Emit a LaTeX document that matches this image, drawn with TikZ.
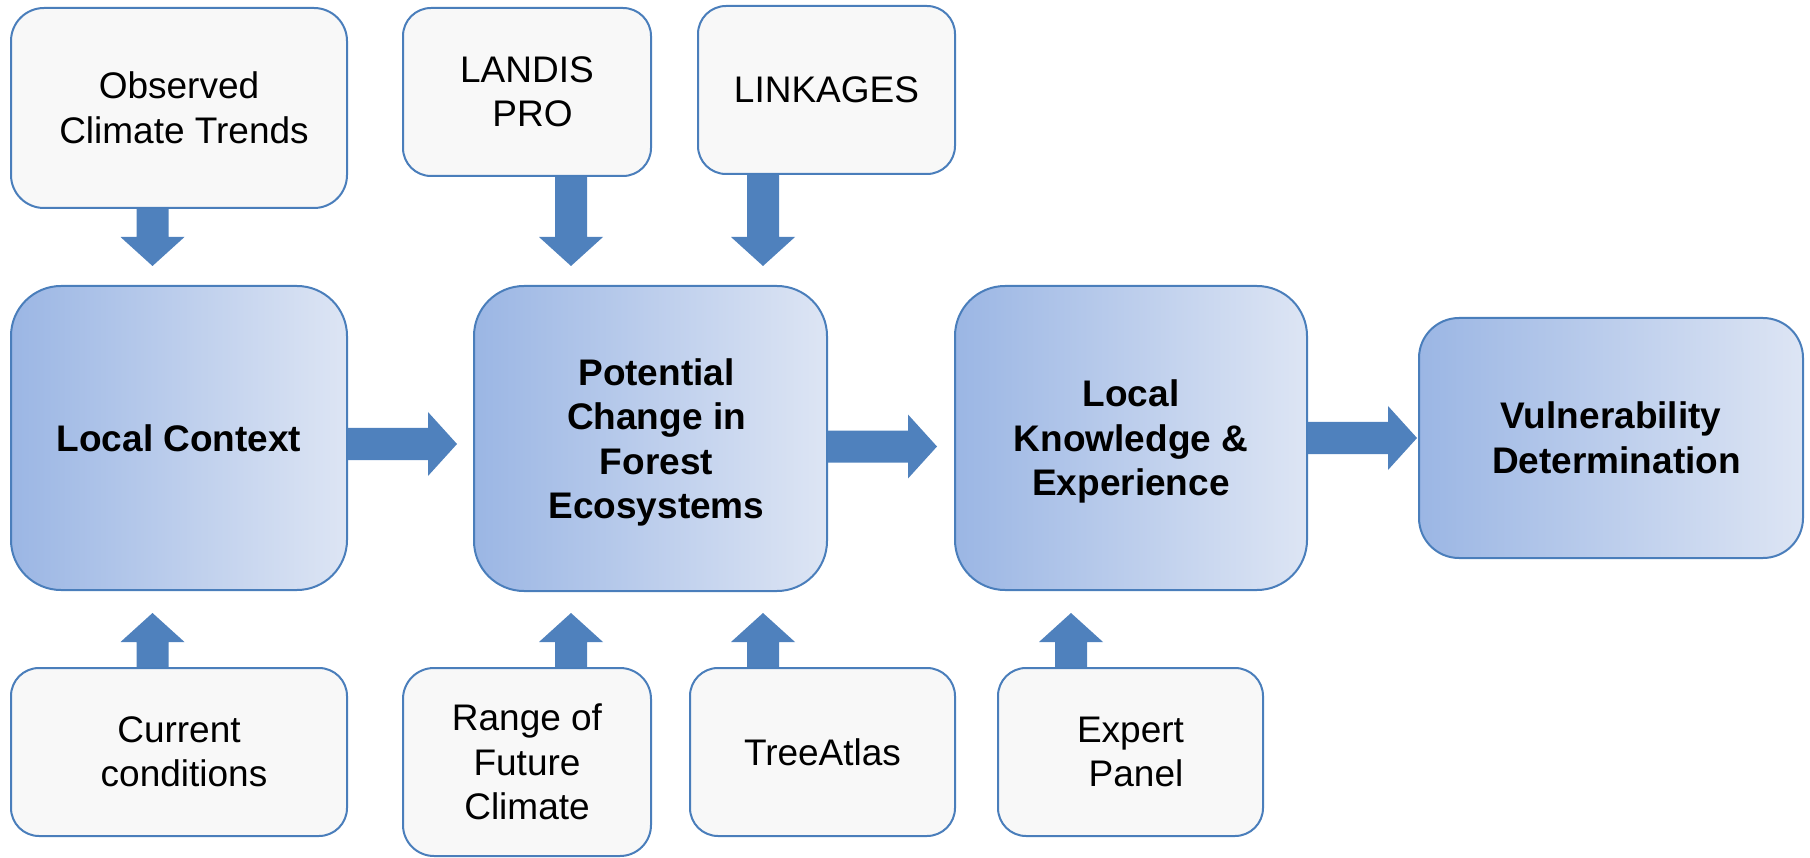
\documentclass[tikz,border=0pt]{standalone}
\usepackage{fontspec}
\setmainfont{Liberation Sans}
\usetikzlibrary{calc}
\definecolor{edgeblue}{RGB}{74,126,187}
\definecolor{arrowblue}{RGB}{79,129,189}
\definecolor{boxgray}{RGB}{248,248,248}
\definecolor{gradL}{RGB}{155,182,228}
\definecolor{gradR}{RGB}{221,229,244}
\newcommand\blockarrow[2]{%
  \coordinate (hb) at ($(#2)!29pt!(#1)$);
  \fill[arrowblue] ($(#1)!16pt!90:(#2)$) -- ($(hb)!16pt!90:(#2)$) -- ($(hb)!32pt!90:(#2)$) -- (#2)
    -- ($(hb)!32pt!-90:(#2)$) -- ($(hb)!16pt!-90:(#2)$) -- ($(#1)!16pt!-90:(#2)$) -- cycle;
}
\begin{document}
\begin{tikzpicture}[x=1pt,y=-1pt,
  inbox/.style={draw=edgeblue, line width=2pt, fill=boxgray, inner sep=0pt, align=center,
    font=\fontsize{37}{44.5}\selectfont, rounded corners=28pt},
  mainbox/.style={draw=edgeblue, line width=2pt, left color=gradL, right color=gradR,
    inner sep=0pt, align=center, font=\fontsize{37}{44.5}\selectfont\bfseries, rounded corners=50pt}]
\useasboundingbox (0,0) rectangle (1810,858);
% input boxes
\node[inbox, rounded corners=33pt, minimum width=336pt, minimum height=200pt] (obs) at (179,108) {Observed\\\hspace*{10pt}Climate Trends};
\node[inbox, minimum width=248pt, minimum height=168pt] (landis) at (527,92) {LANDIS\\\hspace*{11pt}PRO};
\node[inbox, minimum width=257pt, minimum height=168pt] (link) at (826.5,90) {LINKAGES};
\node[inbox, minimum width=336pt, minimum height=168pt] (cur) at (179,752) {Current\\\hspace*{10pt}conditions};
\node[inbox, rounded corners=31pt, minimum width=248pt, minimum height=188pt] (range) at (527,762) {Range of\\Future\\Climate};
\node[inbox, minimum width=265pt, minimum height=168pt] (tree) at (822.5,752) {TreeAtlas};
\node[inbox, minimum width=265pt, minimum height=168pt] (expert) at (1130.5,752) {Expert\\\hspace*{11pt}Panel};
% main boxes
\node[mainbox, minimum width=336pt, minimum height=304pt] (lc) at (179,438) {Local Context};
\node[mainbox, text depth=0pt, minimum width=353pt, minimum height=305pt] (pc) at (650.5,438.5) {\hspace*{12pt}Potential\\\hspace*{12pt}Change in\\\hspace*{12pt}Forest\\\hspace*{12pt}Ecosystems};
\node[mainbox, text depth=0pt, minimum width=352pt, minimum height=304pt] (lk) at (1131,438) {Local\\Knowledge \&\\Experience};
\node[mainbox, rounded corners=40pt, minimum width=384pt, minimum height=240pt] (vul) at (1611,438) {Vulnerability\\\hspace*{11pt}Determination};
% arrow positions
\coordinate (x1) at (152.5,0);
\coordinate (x2) at (571,0);
\coordinate (x3) at (763,0);
\coordinate (x4) at (1071,0);
\coordinate (y1) at (0,444);
\coordinate (y2) at (0,446.5);
\coordinate (y3) at (0,438);
% vertical arrows
\coordinate (a1s) at (obs.south -| x1);   \coordinate (a1t) at ($(lc.north -| x1)+(0,-19)$);
\coordinate (a2s) at (landis.south -| x2); \coordinate (a2t) at ($(pc.north -| x2)+(0,-19)$);
\coordinate (a3s) at (link.south -| x3);  \coordinate (a3t) at ($(pc.north -| x3)+(0,-19)$);
\coordinate (a4s) at (cur.north -| x1);   \coordinate (a4t) at ($(lc.south -| x1)+(0,22)$);
\coordinate (a5s) at (range.north -| x2); \coordinate (a5t) at ($(pc.south -| x2)+(0,21)$);
\coordinate (a6s) at (tree.north -| x3);  \coordinate (a6t) at ($(pc.south -| x3)+(0,21)$);
\coordinate (a7s) at (expert.north -| x4); \coordinate (a7t) at ($(lk.south -| x4)+(0,22)$);
% horizontal arrows
\coordinate (h1s) at (lc.east |- y1); \coordinate (h1t) at ($(pc.west |- y1)+(-16,0)$);
\coordinate (h2s) at (pc.east |- y2); \coordinate (h2t) at ($(lk.west |- y2)+(-17,0)$);
\coordinate (h3s) at (lk.east |- y3); \coordinate (h3t) at ($(vul.west |- y3)+(-1,0)$);
\blockarrow{a1s}{a1t}
\blockarrow{a2s}{a2t}
\blockarrow{a3s}{a3t}
\blockarrow{a4s}{a4t}
\blockarrow{a5s}{a5t}
\blockarrow{a6s}{a6t}
\blockarrow{a7s}{a7t}
\blockarrow{h1s}{h1t}
\blockarrow{h2s}{h2t}
\blockarrow{h3s}{h3t}
\end{tikzpicture}
\end{document}
